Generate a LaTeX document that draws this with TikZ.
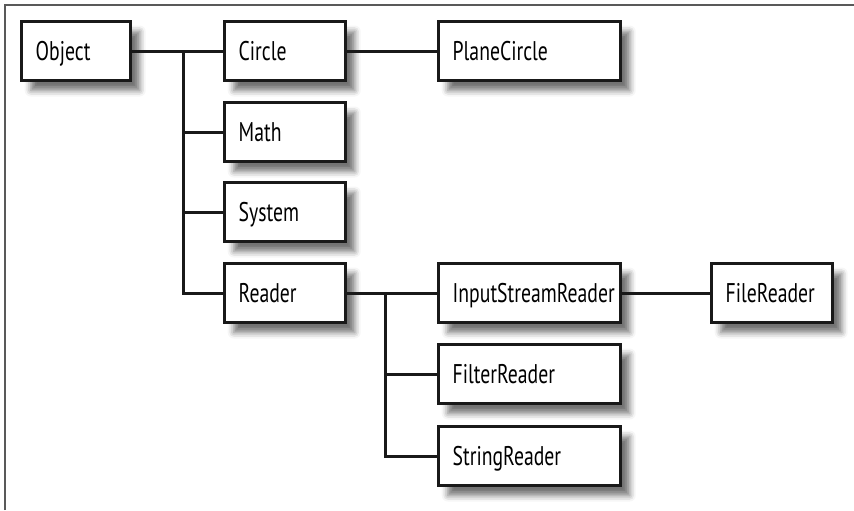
\documentclass[tikz,border=0pt]{standalone}
\usepackage{fontspec}
\setmainfont{PT Sans}[FakeStretch=0.73]
\usetikzlibrary{shadows.blur}
\colorlet{Ink}{black!90}
\colorlet{Frame}{black!65}

\begin{document}
\begin{tikzpicture}[
  x=0.5pt,
  y=-0.5pt,
  every node/.style={font=\fontsize{13.5}{15}\selectfont},
  cls/.style={draw=Ink, line width=1.7pt, fill=white, anchor=west,
    text width=#1, align=left, inner xsep=7pt, minimum height=29.5pt,
    text height=11pt, text depth=2pt,
    blur shadow={shadow xshift=4.5pt, shadow yshift=-5pt,
      shadow blur radius=3pt, shadow opacity=55}},
  link/.style={draw=Ink, line width=1.5pt}
  ]
\useasboundingbox (0,0) rectangle (854,510);
\draw[Frame, line width=0.7pt] (5,510) -- (5,5) -- (854,5);
% classes
\node[cls=40.5pt] (object) at (20,51) {Object};
\node[cls=46.5pt] (circle) at (223,51) {Circle};
\node[cls=77pt] (planecircle) at (437,51) {PlaneCircle};
\node[cls=46.5pt] (math) at (223,132) {Math};
\node[cls=46.5pt] (system) at (223,212) {System};
\node[cls=46.5pt] (reader) at (223,293) {Reader};
\node[cls=77pt] (isr) at (437,293) {InputStreamReader};
\node[cls=46.5pt] (file) at (710,293) {FileReader};
\node[cls=77pt] (filter) at (437,374) {FilterReader};
\node[cls=77pt] (string) at (437,456) {StringReader};
% trunks
\coordinate (objtrunk) at (183,51);
\coordinate (rdrtrunk) at (385,293);
\draw[link]
  (object) -- (circle)
  (circle) -- (planecircle)
  (objtrunk) |- (reader.west)
  (objtrunk |- math.west) -- (math.west)
  (objtrunk |- system.west) -- (system.west)
  (reader) -- (isr)
  (isr) -- (file)
  (rdrtrunk) |- (string.west)
  (rdrtrunk |- filter.west) -- (filter.west);
\end{tikzpicture}
\end{document}
